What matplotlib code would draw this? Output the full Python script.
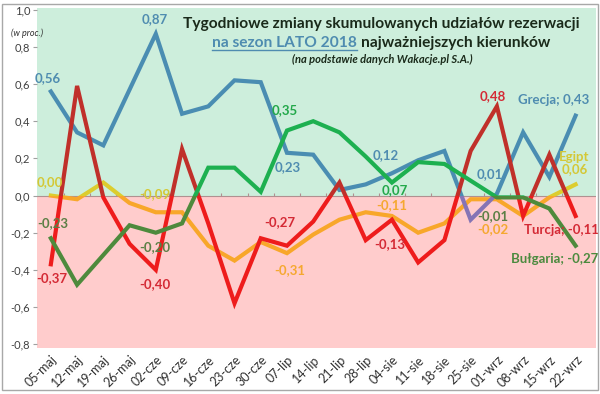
import matplotlib
matplotlib.use('Agg')
import matplotlib.pyplot as plt
from matplotlib.patches import Rectangle
from matplotlib.lines import Line2D
from matplotlib.ticker import FuncFormatter, MultipleLocator

plt.rcParams['font.family'] = ['Lato', 'DejaVu Sans']

weeks = ['05-maj', '12-maj', '19-maj', '26-maj', '02-cze', '09-cze', '16-cze',
         '23-cze', '30-cze', '07-lip', '14-lip', '21-lip', '28-lip', '04-sie',
         '11-sie', '18-sie', '25-sie', '01-wrz', '08-wrz', '15-wrz', '22-wrz']

grecja = [0.56, 0.34, 0.27, 0.57, 0.87, 0.44, 0.48, 0.62, 0.61, 0.23, 0.22,
          0.03, 0.06, 0.12, 0.19, 0.24, -0.13, 0.01, 0.34, 0.10, 0.43]
turcja = [-0.37, 0.59, -0.01, -0.26, -0.40, 0.25, -0.15, -0.58, -0.23, -0.27, -0.14,
          0.07, -0.24, -0.13, -0.36, -0.24, 0.24, 0.48, -0.11, 0.22, -0.11]
bulgaria = [-0.23, -0.48, -0.32, -0.16, -0.20, -0.15, 0.15, 0.15, 0.02, 0.35, 0.40,
            0.34, 0.21, 0.07, 0.18, 0.17, 0.08, -0.01, -0.01, -0.07, -0.27]
egipt = [0.00, -0.02, 0.07, -0.04, -0.09, -0.09, -0.27, -0.35, -0.25, -0.31, -0.21,
         -0.13, -0.09, -0.11, -0.20, -0.15, -0.02, -0.02, -0.11, -0.01, 0.06]

x = list(range(len(weeks)))

fig = plt.figure(figsize=(6.0, 3.94), dpi=100)
ax = fig.add_axes([0.062, 0.117, 0.931, 0.863])
ax.set_xlim(-0.52, 20.77)
ax.set_ylim(-0.82, 1.01)

# tło: zielone nad zerem, różowe pod zerem
ax.axhspan(0, 1.01, color='#cdeedc', zorder=0, lw=0)
ax.axhspan(-0.82, 0, color='#ffcccc', zorder=0, lw=0)
ax.axhline(0, color='#b09090', lw=0.8, zorder=1)
ax.vlines([i + 0.5 for i in x[:-1]], 0, 0.015, color='#b09090', lw=0.8, zorder=1)

series = [
    (egipt, '#dccd2e', '#f8a72a'),
    (grecja, '#4a8db2', '#8574b5'),
    (turcja, '#c0302a', '#ee1c1c'),
    (bulgaria, '#1db050', '#4e8a3c'),
]
for vals, c_pos, c_neg in series:
    for col, rect in [(c_pos, Rectangle((-2, 0), 30, 5)),
                      (c_neg, Rectangle((-2, -5), 30, 5))]:
        ln, = ax.plot(x, vals, color=col, lw=3.0, solid_joinstyle='miter', zorder=3)
        rect.set_transform(ax.transData)
        ln.set_clip_path(rect)


def lab(txt, i, vals, dx, dy, color):
    ax.annotate(txt, (i, vals[i]), xytext=(dx * 0.72, dy * 0.72), textcoords='offset points',
                ha='center', va='center', fontsize=9.5, fontweight='bold', color=color,
                zorder=5, linespacing=1.0)


c_gr = '#4f8cb0'
c_tu = '#d42a35'
c_bu = '#22a84a'
c_bu2 = '#5b7f45'
c_eg = '#d4c836'
c_eg2 = '#f5a830'

lab('0,56', 0, grecja, -3, 13, c_gr)
lab('0,87', 4, grecja, -1, 15, c_gr)
lab('0,23', 9, grecja, 1, -14, c_gr)
lab('0,12', 13, grecja, -6, 18, c_gr)
lab('0,01', 17, grecja, -7, 20, c_gr)
lab('Grecja; 0,43', 20, grecja, -22, 16, c_gr)

lab('-0,37', 0, turcja, 1, -14, c_tu)
lab('-0,40', 4, turcja, -1, -14, c_tu)
lab('-0,27', 9, turcja, -7, 24, c_tu)
lab('-0,13', 13, turcja, -2, -24, c_tu)
lab('0,48', 17, turcja, -4, 10, c_tu)
lab('Turcja; -0,11', 20, turcja, -14, -14, c_tu)

lab('-0,23', 0, bulgaria, 2, 15, c_bu2)
lab('-0,20', 4, bulgaria, -1, -14, c_bu2)
lab('0,35', 9, bulgaria, -2, 20, c_bu)
lab('0,07', 13, bulgaria, 3, -8, c_bu)
lab('-0,01', 17, bulgaria, -4, -19, c_bu2)
lab('Bułgaria; -0,27', 20, bulgaria, -21, -13, '#4b8a3e')

lab('0,00', 0, egipt, -1, 13, c_eg)
lab('-0,09', 4, egipt, -1, 18, c_eg)
lab('-0,31', 9, egipt, 3, -17, c_eg2)
lab('-0,11', 13, egipt, 0, 11, c_eg2)
lab('-0,02', 17, egipt, -4, -30, c_eg2)
lab('Egipt\n0,06', 20, egipt, -1, 21, c_eg)

# osie
ax.set_xticks(x)
ax.set_xticklabels(weeks, rotation=45, ha='right', va='top', rotation_mode='anchor',
                   fontsize=9, color='#303030')
ax.tick_params(axis='x', length=0, pad=4)
ax.yaxis.set_major_locator(MultipleLocator(0.2))
ax.yaxis.set_major_formatter(FuncFormatter(lambda v, p: f'{v:.1f}'.replace('.', ',')))
ax.tick_params(axis='y', length=3, color='#a0a0a0', labelsize=8, labelcolor='#404040', pad=2)
for s in ax.spines.values():
    s.set_visible(False)

# tytuł
fig.text(0.635, 0.94, 'Tygodniowe zmiany skumulowanych udziałów rezerwacji', ha='center',
         va='center', fontsize=11.2, fontweight='bold', color='#1a2a1a')
t_blue = fig.text(0.595, 0.89, 'na sezon LATO 2018', ha='right', va='center', fontsize=11.2,
                  fontweight='bold', color='#4f8cb0')
fig.text(0.602, 0.89, 'najważniejszych kierunków', ha='left', va='center', fontsize=11.2,
         fontweight='bold', color='#1a2a1a')
fig.text(0.638, 0.848, '(na podstawie danych Wakacje.pl S.A.)', ha='center', va='center',
         fontsize=8, fontweight='bold', style='italic', color='#1a2a1a')
fig.text(0.018, 0.916, '(w proc.)', ha='left', va='center', fontsize=6.5, style='italic',
         color='#303030')

fig.canvas.draw()
bb = t_blue.get_window_extent().transformed(fig.transFigure.inverted())
fig.add_artist(Line2D([bb.x0, bb.x1], [bb.y0 + 0.002, bb.y0 + 0.002], color='#4f8cb0', lw=1.0))

# ramka wykresu
fig.add_artist(Rectangle((0.004, 0.009), 0.992, 0.982, transform=fig.transFigure, fill=False,
                         edgecolor='#a8a8a8', lw=1.0))

fig.savefig('out.png', dpi=100)
